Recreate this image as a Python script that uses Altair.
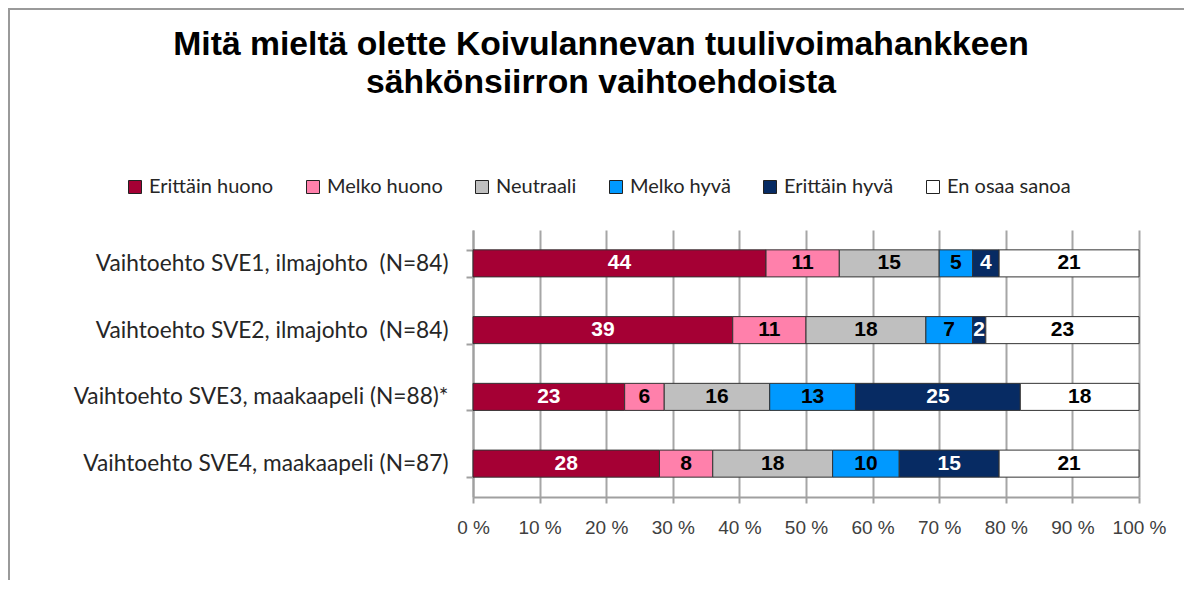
import altair as alt
import pandas as pd

categories = [
    "Vaihtoehto SVE1, ilmajohto \u00a0(N=84)",
    "Vaihtoehto SVE2, ilmajohto \u00a0(N=84)",
    "Vaihtoehto SVE3, maakaapeli (N=88)*",
    "Vaihtoehto SVE4, maakaapeli (N=87)",
]
responses = ["Erittäin huono", "Melko huono", "Neutraali", "Melko hyvä", "Erittäin hyvä", "En osaa sanoa"]
sve1 = [44, 11, 15, 5, 4, 21]
sve2 = [39, 11, 18, 7, 2, 23]
sve3 = [23, 6, 16, 13, 25, 18]
sve4 = [28, 8, 18, 10, 15, 21]
colors = ["#A50034", "#FF80AB", "#BFBFBF", "#0099FF", "#072B63", "#FFFFFF"]
x_ticks = [0, 0.1, 0.2, 0.3, 0.4, 0.5, 0.6, 0.7, 0.8, 0.9, 1.0]

rows = []
for cat, vals in zip(categories, [sve1, sve2, sve3, sve4]):
    for i, (resp, v) in enumerate(zip(responses, vals)):
        rows.append({"cat": cat, "resp": resp, "value": v, "order": i})
df = pd.DataFrame(rows)

base = (
    alt.Chart(df)
    .transform_joinaggregate(total="sum(value)", groupby=["cat"])
    .transform_calculate(pct="datum.value / datum.total")
    .transform_stack(stack="pct", groupby=["cat"], as_=["x0", "x1"],
                     sort=[alt.SortField("order", order="ascending")])
    .transform_calculate(mid="(datum.x0 + datum.x1) / 2")
)

y_enc = alt.Y(
    "cat:N", sort=categories, title=None,
    scale=alt.Scale(paddingInner=0.595, paddingOuter=0.2975),
    axis=alt.Axis(
        domainColor="#a0a0a0", domainWidth=2, tickColor="#a0a0a0", tickWidth=2,
        tickSize=7, tickBand="extent", labelFont="Lato", labelFontSize=22.7,
        labelColor="#262626", labelPadding=18, labelLimit=450, grid=False,
    ),
)

bars = base.mark_bar(stroke="#333333", strokeWidth=1).encode(
    y=y_enc,
    x=alt.X(
        "x0:Q", title=None, scale=alt.Scale(domain=[0, 1], nice=False),
        axis=alt.Axis(
            values=x_ticks, labelExpr="round(datum.value * 100) + ' %'",
            labelOverlap=False, labelFlush=False,
            grid=True, gridColor="#a6a6a6", gridWidth=2,
            domainColor="#a0a0a0", domainWidth=2, tickColor="#a0a0a0", tickWidth=2,
            tickSize=6, labelFont="Liberation Sans", labelFontSize=19,
            labelColor="#404040", labelPadding=15,
        ),
    ),
    x2="x1:Q",
    color=alt.Color(
        "resp:N",
        scale=alt.Scale(domain=responses, range=colors),
        legend=alt.Legend(
            title=None, orient="none", direction="horizontal",
            legendX=-348, legendY=-53, symbolType="square", symbolSize=169,
            symbolStrokeColor="#222222", symbolStrokeWidth=1, symbolOpacity=1,
            labelFont="Lato", labelFontSize=20, labelColor="#262626",
            labelOffset=4, columnPadding=29, padding=0,
        ),
    ),
)

text = base.mark_text(font="Liberation Sans", fontWeight="bold", fontSize=21).encode(
    y=alt.Y("cat:N", sort=categories),
    x=alt.X("mid:Q"),
    text=alt.Text("value:Q"),
    color=alt.condition(
        "datum.resp == 'Erittäin huono' || datum.resp == 'Erittäin hyvä'",
        alt.value("white"), alt.value("black"),
    ),
)

frame = alt.Chart(alt.Data(values=[{}])).mark_rect(
    fillOpacity=0, stroke="#9a9a9a", strokeWidth=2
).encode(
    x=alt.value(-464), x2=alt.value(716), y=alt.value(-221), y2=alt.value(420)
)

chart = (
    alt.layer(frame, bars, text)
    .properties(
        width=666, height=267,
        autosize=alt.AutoSizeParams(type="none"),
        padding={"left": 465, "top": 222, "right": 45, "bottom": 83},
        title=alt.TitleParams(
            ["Mitä mieltä olette Koivulannevan tuulivoimahankkeen", "sähkönsiirron vaihtoehdoista"],
            font="Liberation Sans", fontSize=33.7, fontWeight="bold", color="black",
            anchor="middle", dx=-205, offset=-92, lineHeight=38,
        ),
    )
    .configure_view(strokeWidth=0)
)

chart.save("out.html", embed_options={"renderer": "svg", "actions": False})
